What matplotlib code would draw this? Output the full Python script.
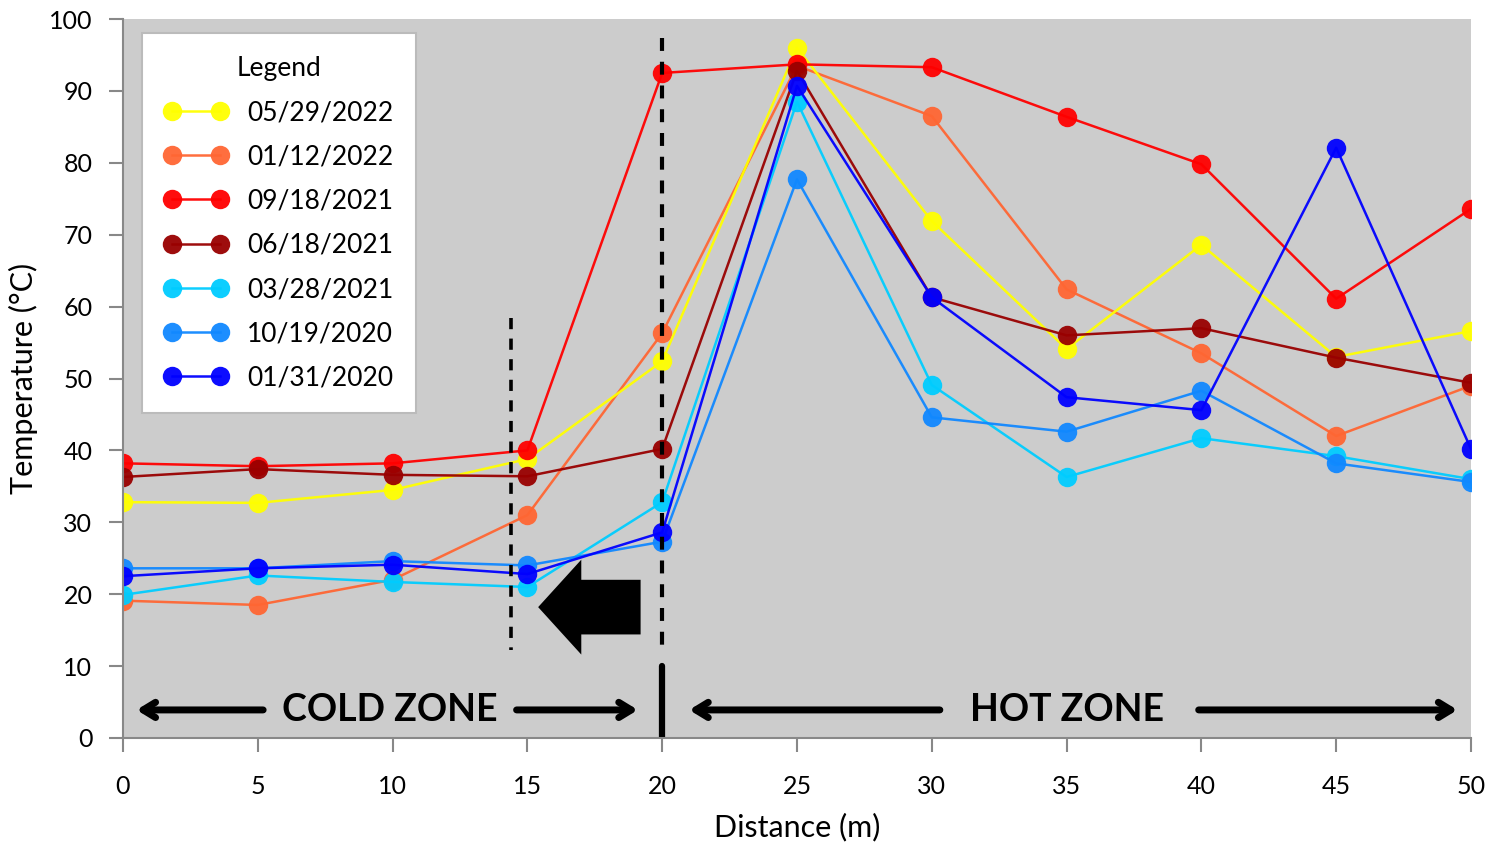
import numpy as np
import matplotlib.pyplot as plt

# distances (m) and temperatures (degC) per survey date
distance = [0, 5, 10, 15, 20, 25, 30, 35, 40, 45, 50]

t_20220529 = [32.8, 32.7, 34.5, 38.8, 52.4, 96.0, 71.9, 54.1, 68.6, 53.0, 56.6]
t_20220112 = [19.1, 18.5, 22.0, 31.0, 56.3, 93.5, 86.5, 62.4, 53.5, 42.0, 49.0]
t_20210918 = [38.2, 37.8, 38.2, 40.0, 92.5, 93.7, 93.3, 86.4, 79.8, 61.1, 73.6]
t_20210618 = [36.3, 37.4, 36.6, 36.4, 40.2, 92.8, 61.3, 56.0, 57.0, 52.9, 49.4]
t_20210328 = [19.9, 22.6, 21.7, 21.0, 32.8, 88.5, 49.1, 36.3, 41.7, 39.2, 36.0]
t_20201019 = [23.6, 23.6, 24.6, 24.0, 27.3, 77.7, 44.6, 42.6, 48.3, 38.2, 35.6]
t_20200131 = [22.5, 23.6, 24.1, 22.8, 28.6, 90.7, 61.3, 47.4, 45.6, 82.1, 40.2]

labels = ['05/29/2022', '01/12/2022', '09/18/2021', '06/18/2021',
          '03/28/2021', '10/19/2020', '01/31/2020']
colors = ['#FFFF00', '#FF6633', '#FF0000', '#990000',
          '#00CCFF', '#1188FF', '#0000FF']
series = [t_20220529, t_20220112, t_20210918, t_20210618,
          t_20210328, t_20201019, t_20200131]
draw_order = [1, 0, 2, 3, 4, 5, 6]  # which series lands on top

plt.rcParams['font.family'] = ['Lato', 'DejaVu Sans']

fig = plt.figure(figsize=(15.05, 8.46), dpi=100)
ax = fig.add_axes([0.0817, 0.1277, 0.8957, 0.8498])
ax.set_facecolor('#CCCCCC')

lines = {}
for i in draw_order:
    ln, = ax.plot(distance, series[i], '-o', color=colors[i], lw=1.8, ms=14,
                  markeredgewidth=0, label=labels[i], alpha=0.95)
    lines[i] = ln

ax.set_xlim(0, 50)
ax.set_ylim(0, 100)
ax.set_xticks(np.arange(0, 51, 5))
ax.set_yticks(np.arange(0, 101, 10))
ax.tick_params(axis='both', labelsize=18, color='#888888', length=10, width=1.5)
ax.tick_params(axis='x', pad=17)
ax.tick_params(axis='y', pad=12)
for s in ['top', 'right']:
    ax.spines[s].set_visible(False)
for s in ['left', 'bottom']:
    ax.spines[s].set_color('#888888')
    ax.spines[s].set_linewidth(1.5)

ax.set_xlabel('Distance (m)', fontsize=22, labelpad=10)
ax.set_ylabel('Temperature (°C)', fontsize=22, labelpad=8)

# zone boundary lines
ax.plot([20, 20], [97.4, 11.5], ls=(0, (3.1, 2.6)), color='k', lw=3)
ax.plot([20, 20], [10, 0.2], color='k', lw=4.5, solid_capstyle='round')
ax.plot([14.4, 14.4], [58.4, 12.2], ls=(0, (3.1, 2.6)), color='k', lw=2.6)

# block arrow
ax.arrow(19.2, 18.2, -3.8, 0, width=7.6, head_width=13.2, head_length=1.6,
         length_includes_head=True, color='k', lw=0)

# zone labels and arrows
ax.text(9.9, 3.9, 'COLD ZONE', fontsize=27, fontweight='bold',
        ha='center', va='center')
ax.text(35.0, 3.9, 'HOT ZONE', fontsize=27, fontweight='bold',
        ha='center', va='center')
aprops = dict(arrowstyle='->, head_length=0.9, head_width=0.55', lw=5,
              color='k', capstyle='round', shrinkA=0, shrinkB=0)
ax.annotate('', xy=(0.5, 3.9), xytext=(5.2, 3.9), arrowprops=aprops)
ax.annotate('', xy=(19.1, 3.9), xytext=(14.6, 3.9), arrowprops=aprops)
ax.annotate('', xy=(21.0, 3.9), xytext=(30.3, 3.9), arrowprops=aprops)
ax.annotate('', xy=(49.5, 3.9), xytext=(39.9, 3.9), arrowprops=aprops)

handles = [lines[i] for i in range(len(labels))]
leg = ax.legend(handles, labels, title='Legend', loc='upper left',
                bbox_to_anchor=(0.014, 0.98), borderaxespad=0,
                fontsize=19, title_fontsize=19,
                numpoints=2, handlelength=2.4, handletextpad=0.75,
                labelspacing=0.73, borderpad=0.85, fancybox=False,
                framealpha=1, edgecolor='#BBBBBB')
leg.get_frame().set_linewidth(1.5)

fig.savefig('out.png', dpi=100)
